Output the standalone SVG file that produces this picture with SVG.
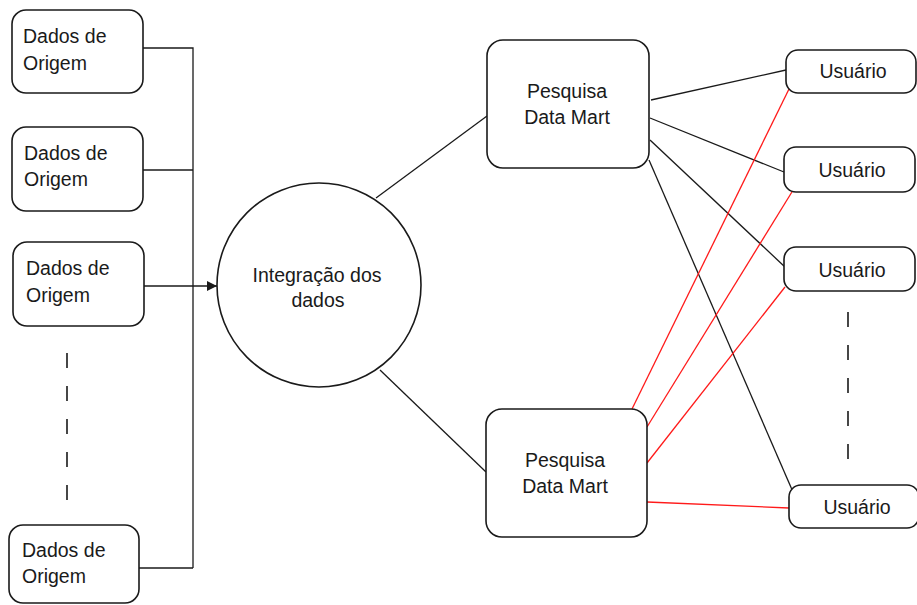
<svg xmlns="http://www.w3.org/2000/svg" width="917" height="605" viewBox="0 0 917 605">
  <style>
    .box { fill: #ffffff; stroke: #1a1a1a; stroke-width: 1.6; }
    .lbl { font-family: "Liberation Sans", Arial, sans-serif; font-size: 19.5px; fill: #1a1a1a; }
    .mid { text-anchor: middle; }
    .ln { fill: none; stroke: #1a1a1a; stroke-width: 1.3; }
    .red { fill: none; stroke: #ff1a1a; stroke-width: 1.3; }
    .dash { fill: none; stroke: #1a1a1a; stroke-width: 1.6; stroke-dasharray: 15 18; }
  </style>
  <defs>
    <marker id="arrow" viewBox="0 0 10 10" refX="10" refY="5" markerWidth="10" markerHeight="10" markerUnits="userSpaceOnUse" orient="auto">
      <path d="M0,0 L10,5 L0,10 z" fill="#1a1a1a"/>
    </marker>
  </defs>
  <rect width="917" height="605" fill="#ffffff"/>

  <!-- connectors -->
  <g id="connectors">
    <!-- source bus -->
    <path class="ln" d="M143,48 H193 V568"/>
    <path class="ln" d="M143,170 H193"/>
    <path class="ln" d="M139,568 H193"/>
    <path class="ln" d="M144,286 H217" marker-end="url(#arrow)"/>
    <!-- integration to data marts -->
    <path class="ln" d="M376,198 L487,116"/>
    <path class="ln" d="M380,370 L486,472"/>
    <!-- upper data mart to users -->
    <path class="ln" d="M651,100 L786,70"/>
    <path class="ln" d="M650,118 L784,172"/>
    <path class="ln" d="M650,140 L785,267"/>
    <path class="ln" d="M649,160 L793,492"/>
    <!-- lower data mart to users -->
    <path class="red" d="M632,409 L790,87"/>
    <path class="red" d="M647,427 L795,187"/>
    <path class="red" d="M647,463 L785,287"/>
    <path class="red" d="M647,502 L789,508"/>
    <!-- continuation marks -->
    <path class="dash" d="M67,353 V503"/>
    <path class="dash" d="M848,312 V459"/>
  </g>

  <!-- source boxes -->
  <g id="source1">
    <rect class="box" x="12" y="10" width="131" height="83" rx="14"/>
    <text class="lbl" x="23" y="43">Dados de</text>
    <text class="lbl" x="23" y="70">Origem</text>
  </g>
  <g id="source2">
    <rect class="box" x="12" y="127" width="131" height="84" rx="14"/>
    <text class="lbl" x="24" y="160">Dados de</text>
    <text class="lbl" x="24" y="186">Origem</text>
  </g>
  <g id="source3">
    <rect class="box" x="13" y="242" width="131" height="84" rx="14"/>
    <text class="lbl" x="26" y="275">Dados de</text>
    <text class="lbl" x="26" y="302">Origem</text>
  </g>
  <g id="source4">
    <rect class="box" x="9" y="525" width="130" height="78" rx="14"/>
    <text class="lbl" x="22" y="557">Dados de</text>
    <text class="lbl" x="22" y="583">Origem</text>
  </g>

  <!-- integration -->
  <g id="integration">
    <circle class="box" cx="319" cy="285" r="102"/>
    <text class="lbl mid" x="317" y="282">Integração dos</text>
    <text class="lbl mid" x="318" y="307">dados</text>
  </g>

  <!-- data marts -->
  <g id="datamart1">
    <rect class="box" x="487" y="40" width="162" height="128" rx="16"/>
    <text class="lbl mid" x="567" y="98">Pesquisa</text>
    <text class="lbl mid" x="567" y="124">Data Mart</text>
  </g>
  <g id="datamart2">
    <rect class="box" x="486" y="409" width="161" height="128" rx="16"/>
    <text class="lbl mid" x="565" y="467">Pesquisa</text>
    <text class="lbl mid" x="565" y="493">Data Mart</text>
  </g>

  <!-- users -->
  <g id="user1">
    <rect class="box" x="786" y="50" width="130" height="43" rx="12"/>
    <text class="lbl mid" x="853" y="78">Usuário</text>
  </g>
  <g id="user2">
    <rect class="box" x="784" y="147" width="131" height="45" rx="12"/>
    <text class="lbl mid" x="852" y="177">Usuário</text>
  </g>
  <g id="user3">
    <rect class="box" x="784" y="247" width="131" height="44" rx="12"/>
    <text class="lbl mid" x="852" y="277">Usuário</text>
  </g>
  <g id="user4">
    <rect class="box" x="789" y="485" width="130" height="43" rx="12"/>
    <text class="lbl mid" x="857" y="514">Usuário</text>
  </g>
</svg>
